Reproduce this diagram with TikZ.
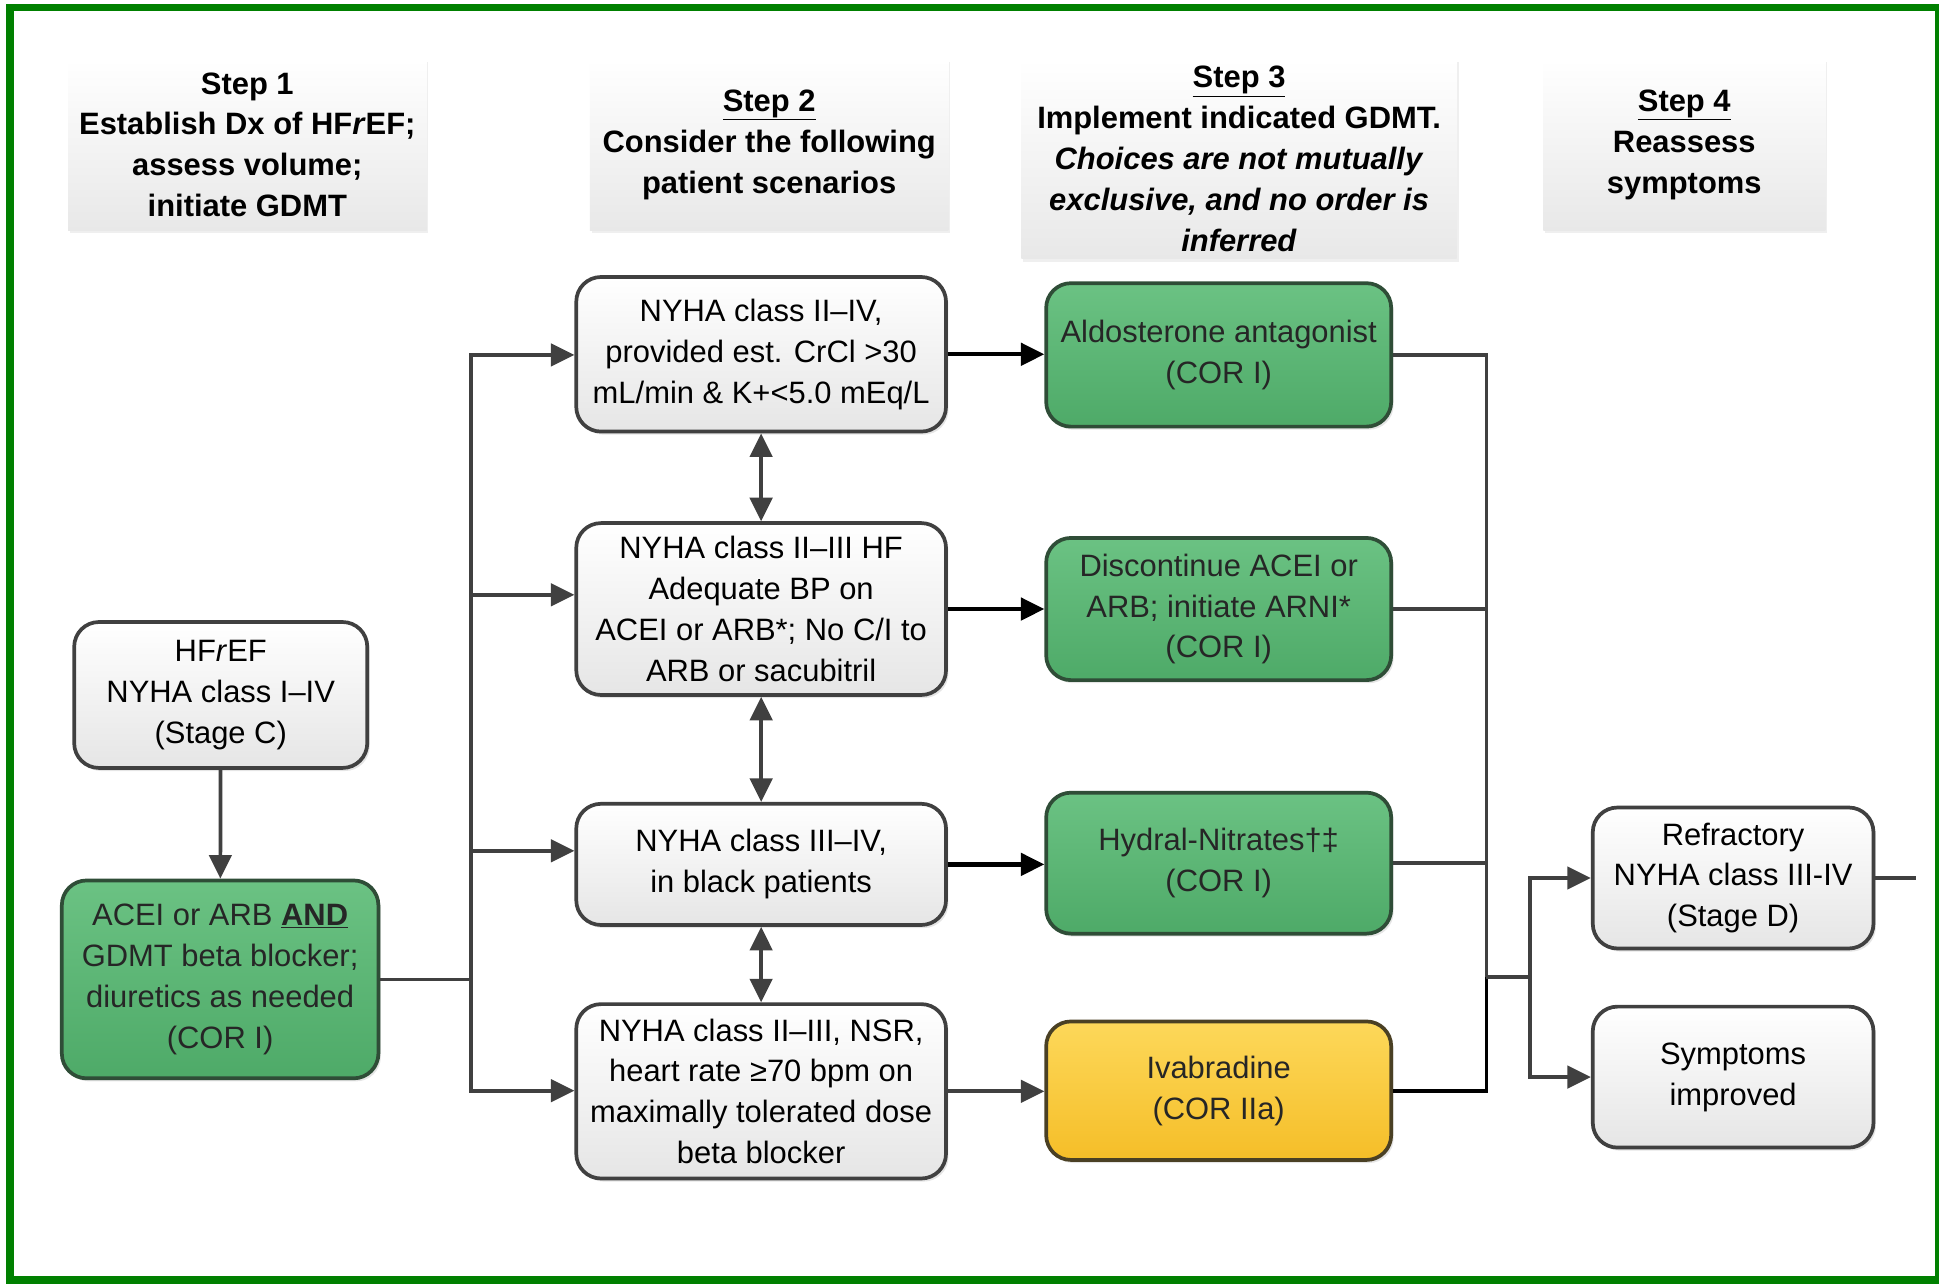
\documentclass[tikz,border=0pt]{standalone}
\usepackage{fontspec}
\setmainfont{Liberation Sans}
\usetikzlibrary{arrows.meta,shadows}

\definecolor{framegreen}{HTML}{008000}
\definecolor{edgegray}{HTML}{404040}
\definecolor{greenTop}{HTML}{6BC283}
\definecolor{greenBot}{HTML}{4EAA68}
\definecolor{greenEdge}{HTML}{2F4D37}
\definecolor{yelTop}{HTML}{FDD85A}
\definecolor{yelBot}{HTML}{F5BE28}
\definecolor{yelEdge}{HTML}{4A4024}

\tikzset{
  x=1pt, y=-1pt,
  txt/.style={font=\fontsize{25}{33}\selectfont, align=center, inner sep=0pt},
  header/.style={txt, font=\fontsize{25}{33}\selectfont\bfseries, rectangle,
    top color=white, bottom color=black!9,
    drop shadow={shadow xshift=1.5pt, shadow yshift=-2.5pt, opacity=0.12}},
  card/.style={txt, rounded corners=20pt, line width=3pt,
    drop shadow={shadow xshift=2pt, shadow yshift=-2.5pt, opacity=0.2}},
  plainbox/.style={card, draw=edgegray, top color=white, bottom color=black!10},
  greenbox/.style={card, draw=greenEdge, top color=greenTop, bottom color=greenBot, text=black!85},
  yellowbox/.style={card, draw=yelEdge, top color=yelTop, bottom color=yelBot, text=black!85},
  wire/.style={draw=edgegray, line width=3pt},
  tip/.tip={Triangle[length=19pt,width=18pt]},
  conn/.style={wire, -tip},
  darkconn/.style={draw=black, line width=3.5pt, -tip},
  twoway/.style={wire, tip-tip},
}

\begin{document}
\begin{tikzpicture}
\useasboundingbox (0,0) rectangle (1568,1038);
\fill[white] (0,0) rectangle (1568,1038);

% outer frame
\draw[framegreen, line width=6pt] (8,6) rectangle (1568,1035);

% step headers
\node[header, minimum width=290pt, minimum height=138pt] (h1) at (200,117)
  {Step 1\\Establish Dx of HF\textit{r}EF;\\assess volume;\\initiate GDMT};
\node[header, minimum width=290pt, minimum height=138pt] (h2) at (622,117)
  {\underline{Step 2}\\Consider the following\\patient scenarios};
\node[header, minimum width=352pt, minimum height=161pt] (h3) at (1002,128.5)
  {\underline{Step 3}\\Implement indicated GDMT.\\\textit{Choices are not mutually}\\\textit{exclusive, and no order is}\\\textit{inferred}};
\node[header, minimum width=228pt, minimum height=138pt] (h4) at (1362,117)
  {\underline{Step 4}\\Reassess\\symptoms};

% step 1 boxes
\node[plainbox, minimum width=237pt, minimum height=118pt] (hf) at (178.5,562)
  {HF\textit{r}EF\\NYHA class I–IV\\(Stage C)};
\node[greenbox, minimum width=256pt, minimum height=160pt] (gdmt) at (178,792)
  {ACEI or ARB \underline{\textbf{AND}}\\GDMT beta blocker;\\diuretics as needed\\(COR I)};

% step 2 scenarios
\node[plainbox, minimum width=299pt, minimum height=125pt] (s1) at (615.5,286.5)
  {NYHA class II–IV,\\provided est. CrCl >30\\mL/min \& K+<5.0 mEq/L};
\node[plainbox, minimum width=299pt, minimum height=139pt] (s2) at (615.5,492.5)
  {NYHA class II–III HF\\Adequate BP on\\ACEI or ARB*; No C/I to\\ARB or sacubitril};
\node[plainbox, minimum width=299pt, minimum height=98pt] (s3) at (615.5,699)
  {NYHA class III–IV,\\in black patients};
\node[plainbox, minimum width=299pt, minimum height=141pt] (s4) at (615.5,882.5)
  {NYHA class II–III, NSR,\\heart rate ≥70 bpm on\\maximally tolerated dose\\beta blocker};

% step 3 therapies
\node[greenbox, minimum width=279pt, minimum height=116pt] (g1) at (985.5,287)
  {Aldosterone antagonist\\(COR I)};
\node[greenbox, minimum width=279pt, minimum height=115pt] (g2) at (985.5,492.5)
  {Discontinue ACEI or\\ARB; initiate ARNI*\\(COR I)};
\node[greenbox, minimum width=279pt, minimum height=114pt] (g3) at (985.5,698)
  {Hydral-Nitrates†‡\\(COR I)};
\node[yellowbox, minimum width=279pt, minimum height=112pt] (iv) at (985.5,882)
  {Ivabradine\\(COR IIa)};

% step 4 outcomes
\node[plainbox, minimum width=227pt, minimum height=114pt] (rf) at (1401.5,710)
  {Refractory\\NYHA class III-IV\\(Stage D)};
\node[plainbox, minimum width=227pt, minimum height=114pt] (si) at (1401.5,871)
  {Symptoms\\improved};

% left distribution trunk
\coordinate (tj) at (381,792);
\coordinate (t1) at (381,287);
\coordinate (t2) at (381,481);
\coordinate (t3) at (381,688);
\coordinate (t4) at (381,882);
\draw[conn] (hf) -- (gdmt);
\draw[wire] (gdmt.east) -- (tj);
\draw[wire, line cap=rect] (t1) -- (t4);
\draw[conn] (t1) -- (t1 -| s1.west);
\draw[conn] (t2) -- (t2 -| s2.west);
\draw[conn] (t3) -- (t3 -| s3.west);
\draw[conn] (t4) -- (t4 -| s4.west);

% links between scenarios
\draw[twoway] (s1.south) -- (s2.north);
\draw[twoway] (s2.south) -- (s3.north);
\draw[twoway] (s3.south) -- (s4.north);

% scenario to therapy
\draw[darkconn] (s1.east) -- (s1.east -| g1.west);
\draw[darkconn] (s2.east) -- (s2.east -| g2.west);
\draw[darkconn] (s3.east) -- (s3.east -| g3.west);
\draw[conn] (s4.east) -- (s4.east -| iv.west);

% right collector
\coordinate (rj) at (1202,790);
\coordinate (bj) at (1237,790);
\coordinate (rout) at (1549,710);
\draw[wire] (g1.east) -| (rj);
\draw[wire] (g2.east) -- (g2.east -| rj);
\draw[wire] (g3.east) -- (g3.east -| rj);
\draw[draw=black, line width=3pt] (iv.east) -| (rj);
\draw[wire] (rj) -- (bj);
\draw[conn] (bj) |- (rf.west);
\draw[conn] (bj) |- (si.west);
\draw[wire] (rf.east) -- (rout);
\end{tikzpicture}
\end{document}
